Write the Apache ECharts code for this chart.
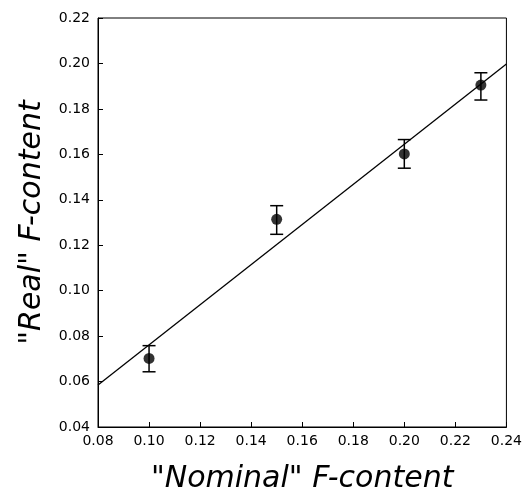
<!DOCTYPE html>
<html>
<head>
<meta charset="utf-8">
<script src="https://cdn.jsdelivr.net/npm/echarts@6/dist/echarts.min.js"></script>
<style>
html,body{margin:0;padding:0;background:#fff;}
#chart{width:525px;height:502px;}
</style>
</head>
<body>
<div id="chart"></div>
<script>
// Data
var xNominal = [0.10, 0.15, 0.20, 0.23];
var yReal    = [0.0702, 0.1314, 0.1602, 0.1905];
var yLow     = [0.0643, 0.1248, 0.1539, 0.1839];
var yHigh    = [0.0758, 0.1374, 0.1665, 0.1959];
var fitX = [0.08, 0.24];
var fitY = [0.0585, 0.1998];
var xTitle = '"Nominal" F-content';
var yTitle = '"Real" F-content';

var pts = xNominal.map(function (x, i) { return [x, yReal[i]]; });
var errs = xNominal.map(function (x, i) { return [x, yLow[i], yHigh[i]]; });
var fit = fitX.map(function (x, i) { return [x, fitY[i]]; });

var FONT = 'DejaVu Sans';
var chart = echarts.init(document.getElementById('chart'), null, {renderer: 'canvas'});
chart.setOption({
  animation: false,
  backgroundColor: '#fff',
  grid: {left: 98, right: 17, top: 18, bottom: 75, show: true, borderColor: '#000', borderWidth: 1, containLabel: false},
  xAxis: {
    type: 'value', min: 0.08, max: 0.24, interval: 0.02,
    name: xTitle, nameLocation: 'middle', nameGap: 37,
    nameTextStyle: {fontFamily: FONT, fontStyle: 'italic', fontSize: 30, color: '#000'},
    axisLine: {show: true, lineStyle: {color: '#000', width: 1}},
    axisTick: {show: true, inside: true, length: 5, lineStyle: {color: '#000'}},
    axisLabel: {fontFamily: FONT, fontSize: 14, color: '#000', margin: 7,
      formatter: function (v) { return v.toFixed(2); }},
    splitLine: {show: false}
  },
  yAxis: {
    type: 'value', min: 0.04, max: 0.22, interval: 0.02,
    name: yTitle, nameLocation: 'middle', nameGap: 51, nameRotate: 90,
    nameTextStyle: {fontFamily: FONT, fontStyle: 'italic', fontSize: 30, color: '#000'},
    axisLine: {show: true, lineStyle: {color: '#000', width: 1}},
    axisTick: {show: true, inside: true, length: 5, lineStyle: {color: '#000'}},
    axisLabel: {fontFamily: FONT, fontSize: 14, color: '#000', margin: 8,
      formatter: function (v) { return v.toFixed(2); }},
    splitLine: {show: false}
  },
  series: [
    {
      type: 'line', data: fit, symbol: 'none', silent: true,
      lineStyle: {color: '#000', width: 1.3}
    },
    {
      type: 'custom', data: errs,
      renderItem: function (params, api) {
        var x = api.value(0);
        var lo = api.coord([x, api.value(1)]);
        var hi = api.coord([x, api.value(2)]);
        var hw = 6.5;
        var st = {stroke: '#000', lineWidth: 1.5};
        return {type: 'group', children: [
          {type: 'line', shape: {x1: lo[0], y1: lo[1], x2: hi[0], y2: hi[1]}, style: st},
          {type: 'line', shape: {x1: lo[0] - hw, y1: lo[1], x2: lo[0] + hw, y2: lo[1]}, style: st},
          {type: 'line', shape: {x1: hi[0] - hw, y1: hi[1], x2: hi[0] + hw, y2: hi[1]}, style: st}
        ]};
      },
      z: 3
    },
    {
      type: 'scatter', data: pts, symbol: 'circle', symbolSize: 11,
      itemStyle: {color: '#000'}, z: 4
    }
  ]
});
</script>
</body>
</html>
